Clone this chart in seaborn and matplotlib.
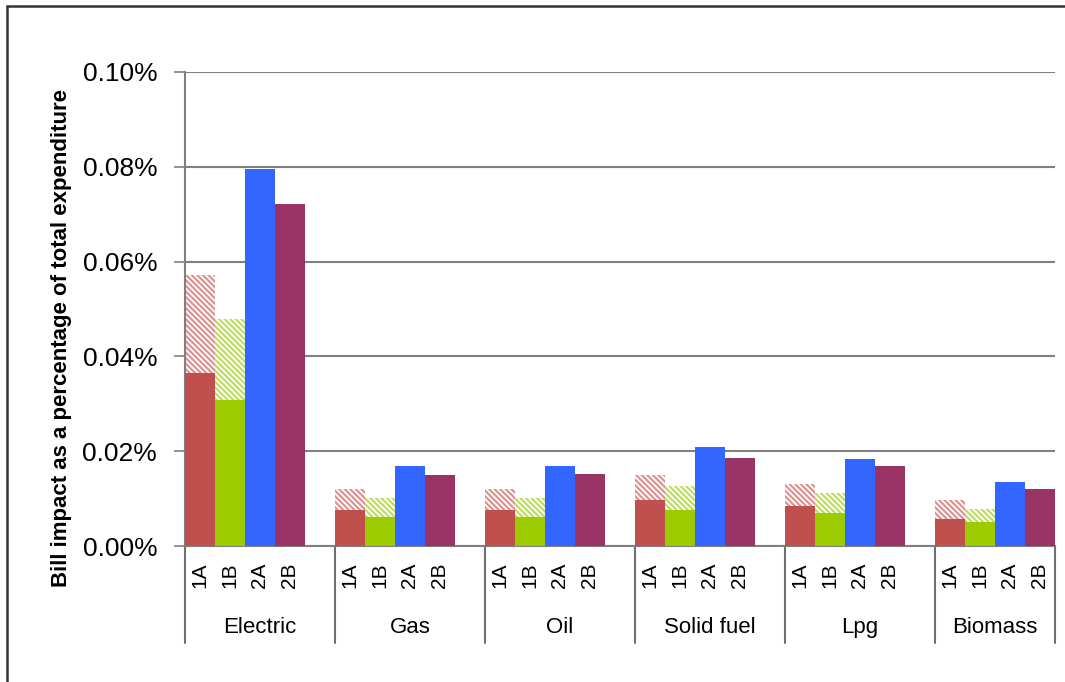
import matplotlib
matplotlib.use('Agg')
import matplotlib.pyplot as plt
import matplotlib.transforms as mtransforms
from matplotlib.patches import Rectangle
from matplotlib.ticker import FuncFormatter
import pandas as pd
import seaborn as sns

#%% Data (bill impact, % of total expenditure)
fuels = ['Electric', 'Gas', 'Oil', 'Solid fuel', 'Lpg', 'Biomass']
scenarios = ['1A', '1B', '2A', '2B']

base_1a = [0.0366, 0.0077, 0.0077, 0.0096, 0.0084, 0.0057]
upper_1a = [0.0572, 0.0120, 0.0120, 0.0150, 0.0131, 0.0097]
base_1b = [0.0307, 0.0062, 0.0062, 0.0077, 0.0070, 0.0051]
upper_1b = [0.0479, 0.0101, 0.0101, 0.0127, 0.0112, 0.0078]
val_2a = [0.0795, 0.0169, 0.0169, 0.0209, 0.0184, 0.0135]
val_2b = [0.0722, 0.0150, 0.0152, 0.0186, 0.0169, 0.0120]

y_ticks = [0.0, 0.02, 0.04, 0.06, 0.08, 0.10]

#%% Style
sns.set_style('white')
plt.rcParams['font.family'] = ['Liberation Sans', 'DejaVu Sans']
plt.rcParams['hatch.linewidth'] = 1.6
plt.rcParams['text.color'] = 'black'
plt.rcParams['xtick.labelcolor'] = 'black'
plt.rcParams['ytick.labelcolor'] = 'black'

colors = {'1A': '#C0504D', '1B': '#9BCB00', '2A': '#3366FF', '2B': '#993366'}
hatch_colors = {'1A': '#DA9593', '1B': '#BEDC66'}
grid_col = '#808080'

#%% Build slot order: four bars per fuel plus a blank slot between groups
slots = []
slot_labels = []
for i, fuel in enumerate(fuels):
    for s in scenarios:
        slots.append(fuel + ' ' + s)
        slot_labels.append(s)
    if i < len(fuels) - 1:
        slots.append(fuel + ' gap')
        slot_labels.append('')

def make_df(scen, values):
    return pd.DataFrame({'slot': [f + ' ' + scen for f in fuels], 'value': values})

#%% Figure
fig = plt.figure(figsize=(10.65, 6.82), dpi=100)
ax = fig.add_axes([185 / 1065, 136 / 682, 870 / 1065, 474 / 682])

def draw(df, scen, hatched=False):
    n0 = len(ax.patches)
    sns.barplot(data=df, x='slot', y='value', order=slots, color=colors[scen],
                width=1.0, saturation=1, errorbar=None, ax=ax)
    for p in ax.patches[n0:]:
        if hatched:
            p.set_facecolor('white')
            p.set_edgecolor(hatch_colors[scen])
            p.set_hatch('\\' * 6)
            p.set_linewidth(0)
            p.set_zorder(2)
        else:
            p.set_facecolor(colors[scen])
            p.set_edgecolor('none')
            p.set_linewidth(0)
            p.set_zorder(3)

draw(make_df('1A', upper_1a), '1A', hatched=True)
draw(make_df('1B', upper_1b), '1B', hatched=True)
draw(make_df('1A', base_1a), '1A')
draw(make_df('1B', base_1b), '1B')
draw(make_df('2A', val_2a), '2A')
draw(make_df('2B', val_2b), '2B')

#%% Axes formatting
ax.set_xlim(-0.5, len(slots) - 0.5)
ax.set_ylim(0, 0.10)
ax.set_yticks(y_ticks)
ax.yaxis.set_major_formatter(FuncFormatter(lambda v, p: f'{v:.2f}%'))
ax.tick_params(axis='y', labelsize=19, length=8, width=1.2, color=grid_col,
               labelcolor='black', left=True, pad=12)
ax.set_xticks(range(len(slots)))
ax.set_xticklabels(slot_labels, rotation=90, fontsize=15)
ax.tick_params(axis='x', length=0, pad=12, labelcolor='black')
ax.set_xlabel('')
ax.set_ylabel('')
fig.text(62 / 1065, 1 - 338 / 682,
         'Bill impact as a percentage of total expenditure',
         rotation=90, ha='center', va='center', fontsize=16,
         fontweight='bold', color='black')

ax.set_axisbelow(True)
ax.yaxis.grid(True, color=grid_col, linewidth=1.5)
ax.xaxis.grid(False)
for side in ['top', 'right']:
    ax.spines[side].set_visible(False)
for side in ['left', 'bottom']:
    ax.spines[side].set_color(grid_col)
    ax.spines[side].set_linewidth(1.5)

# Group labels and separators under the axis
trans = mtransforms.blended_transform_factory(ax.transData, ax.transAxes)
bounds = [-0.5]
for i in range(len(fuels)):
    end = bounds[-1] + (5 if i < len(fuels) - 1 else 4)
    bounds.append(end)
for i, fuel in enumerate(fuels):
    ax.text((bounds[i] + bounds[i + 1]) / 2, -0.171, fuel, transform=trans,
            ha='center', va='center', fontsize=16, color='black')
for b in bounds:
    ax.plot([b, b], [0, -0.205], transform=trans, color='#707070',
            linewidth=1.5, clip_on=False)

# Outer chart border (only left and top visible in the frame)
fig.patches.append(Rectangle((7 / 1065, -0.1), 1.2, 0.1 + 676 / 682,
                             transform=fig.transFigure, fill=False,
                             edgecolor='#333333', linewidth=1.8))

fig.savefig('out.png', dpi=100)
